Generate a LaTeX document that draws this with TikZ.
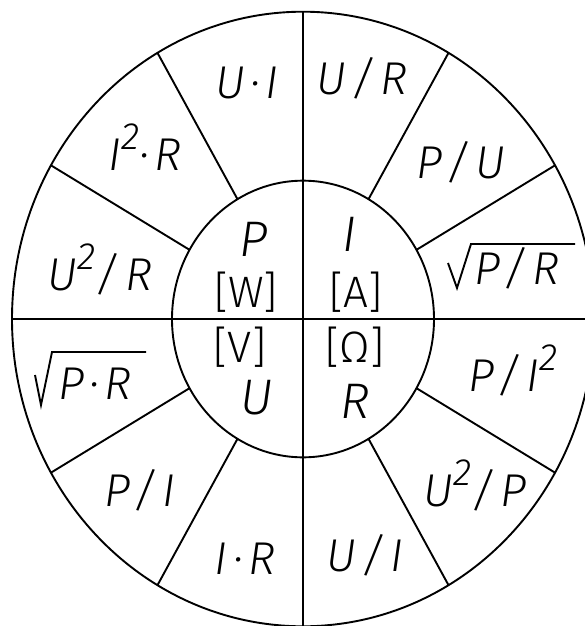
\documentclass[tikz,border=0pt]{standalone}
\usepackage{fontspec}
\usepackage{tikz}
\newfontfamily\wheelfont{Fira Sans Light}[ItalicFont={Fira Sans Light Italic}]
\definecolor{wheelInk}{HTML}{000000}
\newcommand{\powtwo}{\raisebox{21pt}{\fontsize{38}{38}\selectfont 2}}
\tikzset{
  ringline/.style={draw=wheelInk,line width=1.9pt},
  axisline/.style={draw=wheelInk,line width=2.6pt},
  rootline/.style={draw=wheelInk,line width=1.9pt,line join=miter},
  formula/.style={inner sep=0pt,text=wheelInk,
    font=\wheelfont\itshape\fontsize{46}{46}\selectfont\addfontfeatures{LetterSpace=12}},
  quantity/.style={inner sep=0pt,text=wheelInk,font=\wheelfont\itshape\fontsize{50}{50}\selectfont},
  unit/.style={inner sep=0pt,text=wheelInk,font=\wheelfont\fontsize{44}{44}\selectfont}
}

\begin{document}
\begin{tikzpicture}[x=1pt,y=-1pt]
  \useasboundingbox (0,0) rectangle (585,626);
  \fill[white] (0,0) rectangle (585,626);
  \clip (0,0) rectangle (585,626);
  % rings, spokes and axes
  \begin{scope}[shift={(303,319)},yscale=-1.056]
    \draw[ringline] (0,0) circle[radius=291];
    \draw[ringline] (0,0) circle[radius=131];
    \draw[ringline] (30:131) -- (30:291) (60:131) -- (60:291)
      (120:131) -- (120:291) (150:131) -- (150:291)
      (210:131) -- (210:291) (240:131) -- (240:291)
      (300:131) -- (300:291) (330:131) -- (330:291);
    \draw[axisline] (180:291) -- (0:291) (90:291) -- (270:291);
  \end{scope}
  % inner quantities and units
  \node[quantity] (p) at (254,239) {P};
  \node[unit] (w) at (246,292) {[W]};
  \node[quantity] (i) at (350,234) {I};
  \node[unit] (a) at (356,292) {[A]};
  \node[unit] (v) at (240,347) {[V]};
  \node[quantity] (u) at (257,398) {U};
  \node[unit] (ohm) at (355,347) {[Ω]};
  \node[quantity] (r) at (355,401) {R};
  % outer formulas
  \node[formula] (ui) at (247,83) {U·I};
  \node[formula] (ur) at (362,78) {U/R};
  \node[formula] (iir) at (145,147) {I\powtwo·R};
  \node[formula] (pu) at (461,162) {P/U};
  \node[formula] (uur) at (100,269) {U\powtwo/R};
  \node[formula] (pr) at (517,268) {P/R};
  \node[formula] (ppr) at (95,384) {P·R};
  \node[formula] (pii) at (513,370) {P/I\powtwo};
  \node[formula] (pi) at (140,490) {P/I};
  \node[formula] (uup) at (475,485) {U\powtwo/P};
  \node[formula] (ir) at (245,559) {I·R};
  \node[formula] (uovi) at (365,555) {U/I};
  % root signs
  \draw[rootline] ([shift={(-69,-5)}]pr.center) -- ([shift={(-60,20)}]pr.center)
    -- ([shift={(-46,-24)}]pr.center) -- ([shift={(58,-24)}]pr.center);
  \draw[rootline] ([shift={(-60,-9)}]ppr.center) -- ([shift={(-54,21)}]ppr.center)
    -- ([shift={(-43,-32)}]ppr.center) -- ([shift={(51,-32)}]ppr.center);
\end{tikzpicture}
\end{document}
